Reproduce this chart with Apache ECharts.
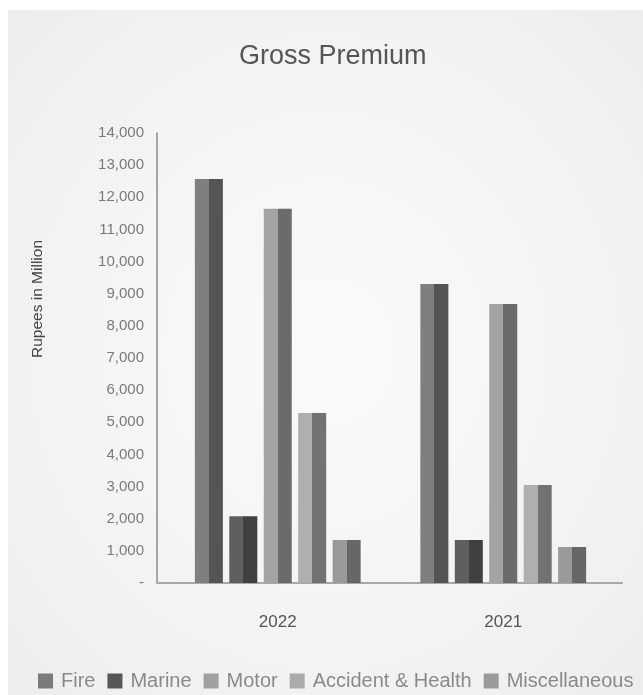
<!DOCTYPE html>
<html>
<head>
<meta charset="utf-8" />
<title>Gross Premium</title>
<script src="https://cdn.jsdelivr.net/npm/echarts@6/dist/echarts.min.js"></script>
<style type="text/css">
  html, body { margin: 0; padding: 0; background: #ffffff; }
  #bg {
    position: absolute; left: 8px; top: 10px; width: 635px; height: 685px;
    background: radial-gradient(ellipse at 50% 50%, #fafafa 0%, #f4f4f4 55%, #ededed 100%);
  }
  #main { position: absolute; left: 0; top: 0; width: 643px; height: 695px; }
</style>
</head>
<body>
<div id="bg"></div>
<div id="main"></div>
<script type="text/javascript">
// data (Rupees in Million)
var years = ['2022', '2021'];
var lines = ['Fire', 'Marine', 'Motor', 'Accident & Health', 'Miscellaneous'];
var fire = [12570, 9300];
var marine = [2080, 1340];
var motor = [11640, 8680];
var accident = [5290, 3050];
var misc = [1340, 1120];
var yTicks = [0, 1000, 14000];

// two tone shading: left half light, right half dark
var tones = [
  ['#7f7f7f', '#545454'],
  ['#5f5f5f', '#404040'],
  ['#a3a3a3', '#6b6b6b'],
  ['#afafaf', '#727272'],
  ['#9a9a9a', '#676767']
];
var legendTone = ['#7b7b7b', '#565656', '#a0a0a0', '#ababab', '#9a9a9a'];

function split(c) {
  return {
    type: 'linear', x: 0, y: 0, x2: 1, y2: 0,
    colorStops: [
      { offset: 0, color: c[0] }, { offset: 0.5, color: c[0] },
      { offset: 0.5, color: c[1] }, { offset: 1, color: c[1] }
    ]
  };
}

var values = [fire, marine, motor, accident, misc];
var series = [];
for (var i = 0; i < lines.length; i++) {
  series.push({
    name: lines[i],
    type: 'bar',
    data: values[i],
    barWidth: 28,
    barGap: '23%',
    itemStyle: { color: split(tones[i]) }
  });
}

var font = 'Liberation Sans, Arial, sans-serif';
var myChart = echarts.init(document.getElementById('main'));
var option = {
  backgroundColor: 'transparent',
  textStyle: { fontFamily: font },
  title: {
    text: 'Gross Premium',
    left: 234,
    top: 38,
    textStyle: { fontSize: 27, fontWeight: 'normal', color: '#555555' }
  },
  legend: {
    left: 33,
    top: 666,
    itemWidth: 15,
    itemHeight: 15,
    itemGap: 12,
    icon: 'rect',
    textStyle: { fontSize: 20, color: '#8a8a8a', padding: [0, 0, 0, 3] },
    data: lines.map(function (n, k) {
      return { name: n, itemStyle: { color: legendTone[k] } };
    })
  },
  graphic: [{
    type: 'text',
    x: 38, y: 299,
    rotation: Math.PI / 2,
    style: {
      text: 'Rupees in Million',
      fontSize: 15.5,
      fill: '#444444',
      align: 'center',
      verticalAlign: 'middle',
      fontFamily: font
    }
  }],
  grid: [
    { left: 165, right: 27, top: 133, bottom: 112 },
    { left: 157, right: 21, top: 133, bottom: 112 }
  ],
  xAxis: [{
    type: 'category',
    gridIndex: 0,
    data: years,
    axisLine: { show: false },
    axisTick: { show: false },
    axisLabel: { margin: 31, fontSize: 17, color: '#555555' }
  }, {
    // baseline running the full width of the plot
    type: 'category',
    gridIndex: 1,
    data: years,
    axisLine: { lineStyle: { color: '#a8a8a8', width: 2 } },
    axisTick: { show: false },
    axisLabel: { show: false }
  }],
  yAxis: [{
    type: 'value',
    gridIndex: 0,
    offset: 8,
    min: yTicks[0],
    max: yTicks[2],
    interval: yTicks[1],
    axisLine: { show: true, lineStyle: { color: '#8c8c8c', width: 1.5 } },
    axisTick: { show: false },
    splitLine: { show: false },
    axisLabel: {
      margin: 13,
      fontSize: 15,
      color: '#7a7a7a',
      formatter: function (v) { return v === 0 ? '-' : v.toLocaleString('en-US'); }
    }
  }, {
    type: 'value',
    gridIndex: 1,
    min: yTicks[0],
    max: yTicks[2],
    show: false
  }],
  series: series
};
myChart.setOption(option);
</script>
</body>
</html>
